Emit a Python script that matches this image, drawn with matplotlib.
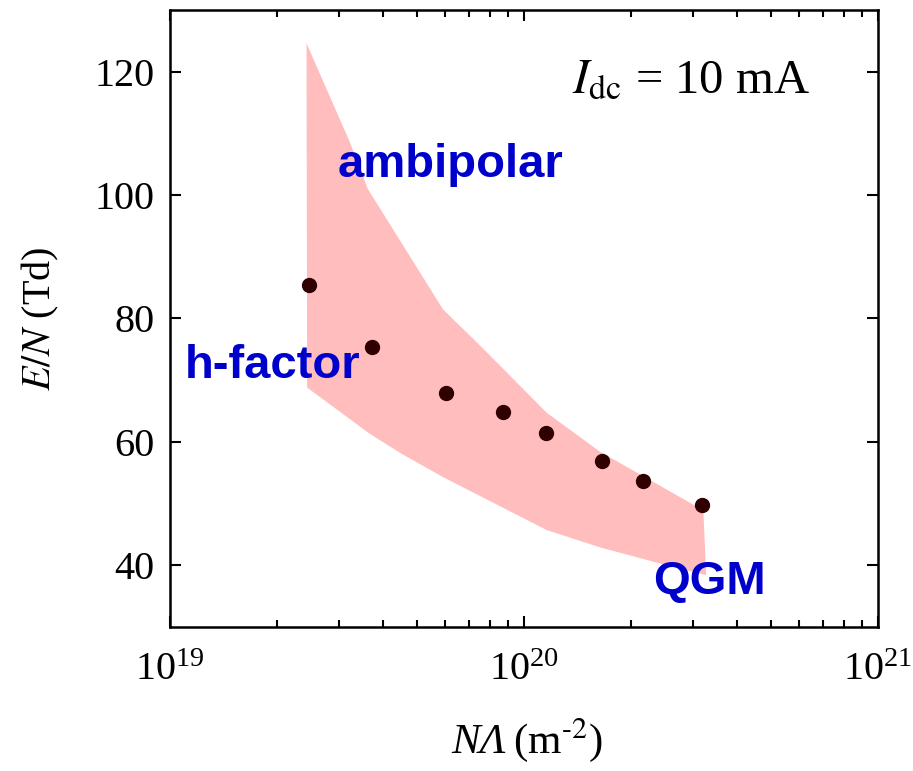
import numpy as np
import matplotlib
matplotlib.use("Agg")
import matplotlib.pyplot as plt

plt.rcParams['font.family'] = ['Liberation Serif', 'DejaVu Serif']
plt.rcParams['mathtext.fontset'] = 'stix'

# measured points
na_pts = [2.47e19, 3.72e19, 6.02e19, 8.72e19, 1.15e20, 1.66e20, 2.17e20, 3.18e20]
en_pts = [85.4, 75.4, 68.0, 64.9, 61.5, 56.9, 53.7, 49.8]

# shaded region: upper (ambipolar) and lower (QGM) limits
upper_x = [2.43e19, 3.22e19, 3.62e19, 5.9e19, 7.7e19, 1.16e20, 1.64e20, 3.21e20]
upper_y = [124.6, 108.6, 101.0, 81.5, 75.0, 64.7, 58.4, 48.9]
lower_x = [2.44e19, 3.67e19, 4.47e19, 5.9e19, 1.16e20, 1.64e20, 2.42e20, 3.27e20]
lower_y = [68.8, 61.3, 58.2, 54.3, 45.7, 42.9, 40.3, 38.4]

fig = plt.figure(figsize=(9.13, 7.71), dpi=100)
ax = fig.add_axes([0.1862, 0.1868, 0.7755, 0.8003])

poly_x = upper_x + lower_x[::-1]
poly_y = upper_y + lower_y[::-1]
ax.fill(poly_x, poly_y, color='#ffbdbd', lw=0, zorder=1)

ax.plot(na_pts, en_pts, 'o', color='#300000', ms=10, zorder=3)

ax.set_xscale('log')
ax.set_xlim(1e19, 1e21)
ax.set_ylim(30, 130)
ax.set_yticks([40, 60, 80, 100, 120])
ax.set_xticks([1e19, 1e20, 1e21])

ax.tick_params(which='both', direction='in', top=True, right=True, width=1.5)
ax.tick_params(which='major', length=8, labelsize=29, pad=11)
ax.tick_params(which='minor', length=5)
ax.tick_params(axis='x', pad=18)
for s in ax.spines.values():
    s.set_linewidth(1.8)

# x label: italic N and Lambda, then units
ax.text(0.475, -0.204, 'N\u039b', transform=ax.transAxes, ha='right',
        va='baseline', fontsize=31, style='italic')
ax.text(0.485, -0.204, r'(m$^{\text{-}2}$)', transform=ax.transAxes,
        ha='left', va='baseline', fontsize=31)
ax.set_ylabel(r'$E/N$ (Td)', fontsize=29, labelpad=24)

ax.text(0.904, 0.867, r'$I_{\rm dc}$ = 10 mA', transform=ax.transAxes,
        ha='right', va='baseline', fontsize=35)

lab = dict(color='#0000cc', fontsize=34, fontweight='bold',
           family=['Liberation Sans'], va='baseline', ha='left')
ax.text(2.97e19, 102.9, 'ambipolar', **lab)
ax.text(1.10e19, 70.4, 'h-factor', **lab)
ax.text(2.31e20, 35.4, 'QGM', **lab)

fig.savefig('out.png', dpi=100)
